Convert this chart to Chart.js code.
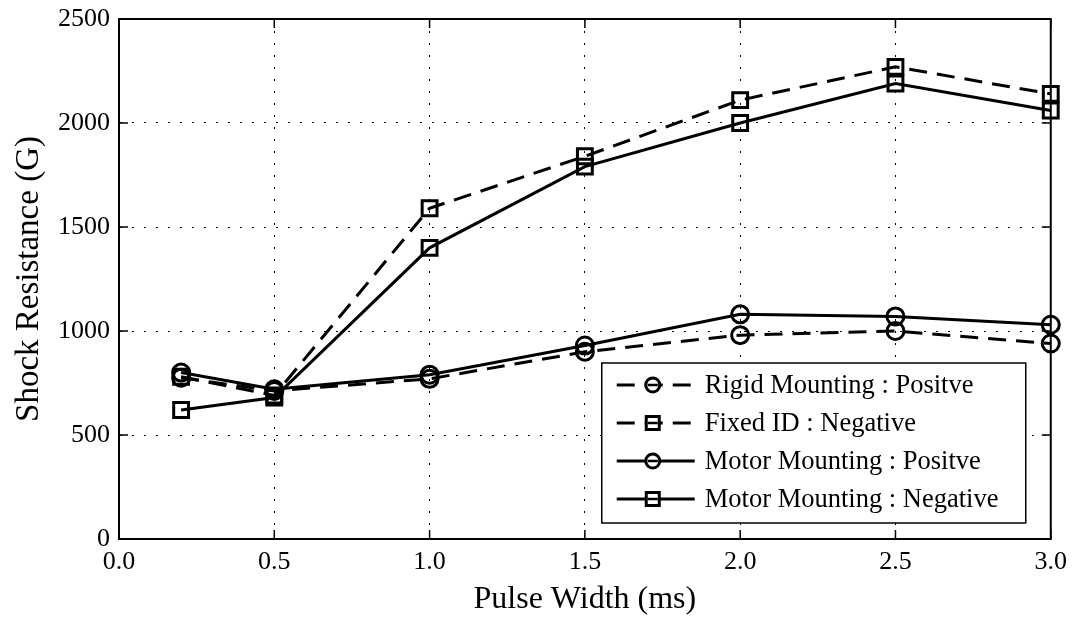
<!DOCTYPE html>
<html>
<head>
<meta charset="utf-8">
<script src="https://cdn.jsdelivr.net/npm/chart.js@4"></script>
<style>
  html, body { margin: 0; padding: 0; background: #fff; }
</style>
</head>
<body>
<canvas id="chart-1" width="1075" height="617"></canvas>
<script>
const pulseWidths = [0.2, 0.5, 1.0, 1.5, 2.0, 2.5, 3.0];
const rigidPositive = [775, 712, 770, 900, 980, 1000, 940];
const fixedNegative = [780, 690, 1590, 1840, 2110, 2270, 2140];
const motorPositive = [800, 720, 790, 930, 1080, 1070, 1030];
const motorNegative = [620, 680, 1400, 1790, 2000, 2190, 2060];

const FONT = "'Liberation Serif', 'DejaVu Serif', serif";

function points(values) {
  return values.map((v, i) => ({ x: pulseWidths[i], y: v }));
}

function series(label, values, dashed, marker) {
  return {
    label: label,
    data: points(values),
    borderColor: "#000",
    borderWidth: 3,
    borderDash: dashed ? [18, 10] : [],
    pointStyle: marker,
    pointRadius: marker === "rect" ? 10.5 : 8.5,
    pointBorderWidth: 3,
    pointBorderColor: "#000",
    pointBackgroundColor: "rgba(0,0,0,0)",
    tension: 0,
    clip: false,
  };
}

// frame with inward ticks + legend box in the lower right
const framePlugin = {
  id: "frame",
  afterDraw(chart) {
    const ctx = chart.ctx;
    const a = chart.chartArea;
    const xs = chart.scales.x, ys = chart.scales.y;
    ctx.save();
    ctx.strokeStyle = "#000";
    ctx.lineWidth = 2;
    ctx.setLineDash([]);
    ctx.strokeRect(a.left, a.top, a.right - a.left, a.bottom - a.top);
    ctx.lineWidth = 1.5;
    ctx.beginPath();
    xs.ticks.forEach((t) => {
      const px = xs.getPixelForValue(t.value);
      ctx.moveTo(px, a.bottom); ctx.lineTo(px, a.bottom - 9);
      ctx.moveTo(px, a.top); ctx.lineTo(px, a.top + 9);
    });
    ys.ticks.forEach((t) => {
      const py = ys.getPixelForValue(t.value);
      ctx.moveTo(a.left, py); ctx.lineTo(a.left + 9, py);
      ctx.moveTo(a.right, py); ctx.lineTo(a.right - 9, py);
    });
    ctx.stroke();

    // legend
    const w = 424, h = 160;
    const bx = a.right - 25 - w, by = a.bottom - 16 - h;
    ctx.fillStyle = "#fff";
    ctx.fillRect(bx, by, w, h);
    ctx.lineWidth = 1.5;
    ctx.strokeRect(bx, by, w, h);
    ctx.font = "26.5px " + FONT;
    ctx.textBaseline = "middle";
    chart.data.datasets.forEach((ds, i) => {
      const cy = by + 22 + i * 38;
      ctx.strokeStyle = "#000";
      ctx.lineWidth = 3;
      ctx.setLineDash(ds.borderDash);
      ctx.beginPath();
      ctx.moveTo(bx + 15, cy);
      ctx.lineTo(bx + 93, cy);
      ctx.stroke();
      ctx.setLineDash([]);
      ctx.fillStyle = "#fff";
      ctx.beginPath();
      if (ds.pointStyle === "rect") {
        ctx.rect(bx + 51 - 6.5, cy - 6.5, 13, 13);
      } else {
        ctx.arc(bx + 51, cy, 7, 0, Math.PI * 2);
      }
      ctx.fill();
      ctx.stroke();
      ctx.lineWidth = 2.5;
      ctx.beginPath();
      ctx.moveTo(bx + 46, cy); ctx.lineTo(bx + 56, cy);
      ctx.stroke();
      ctx.fillStyle = "#000";
      ctx.fillText(ds.label, bx + 103, cy + 1);
    });
    ctx.restore();
  },
};

const ctx1 = document.getElementById("chart-1");

const mychart = new Chart(ctx1, {
  type: "line",
  data: {
    datasets: [
      series("Rigid Mounting : Positve", rigidPositive, true, "circle"),
      series("Fixed ID : Negative", fixedNegative, true, "rect"),
      series("Motor Mounting : Positve", motorPositive, false, "circle"),
      series("Motor Mounting : Negative", motorNegative, false, "rect"),
    ],
  },
  options: {
    responsive: false,
    animation: false,
    layout: { padding: { top: 8, right: 24, left: 0, bottom: 0 } },
    plugins: {
      legend: { display: false },
      tooltip: { enabled: false },
    },
    scales: {
      x: {
        type: "linear",
        min: 0,
        max: 3,
        ticks: {
          stepSize: 0.5,
          color: "#000",
          padding: 8,
          font: { family: FONT, size: 26 },
          callback: (v) => v.toFixed(1),
        },
        grid: { color: "#000", lineWidth: 1, drawTicks: false },
        border: { display: true, color: "#000", width: 2, dash: [2, 10] },
        title: {
          display: true,
          text: "Pulse Width (ms)",
          color: "#000",
          font: { family: FONT, size: 32, lineHeight: 1 },
          padding: { top: 1, bottom: 1 },
        },
        afterFit(scale) { scale.height = 78; },
      },
      y: {
        min: 0,
        max: 2500,
        ticks: {
          stepSize: 500,
          color: "#000",
          padding: 9,
          font: { family: FONT, size: 26, lineHeight: 1 },
          callback: (v) => String(v),
        },
        grid: { color: "#000", lineWidth: 1, drawTicks: false },
        border: { display: true, color: "#000", width: 2, dash: [2, 10] },
        title: {
          display: true,
          text: "Shock Resistance (G)",
          color: "#000",
          font: { family: FONT, size: 33, lineHeight: 1 },
          padding: { top: 13, bottom: 13 },
        },
        afterFit(scale) {
          scale.width = 119;
          scale.paddingTop = 19;
        },
      },
    },
  },
  plugins: [framePlugin],
});
</script>
</body>
</html>
